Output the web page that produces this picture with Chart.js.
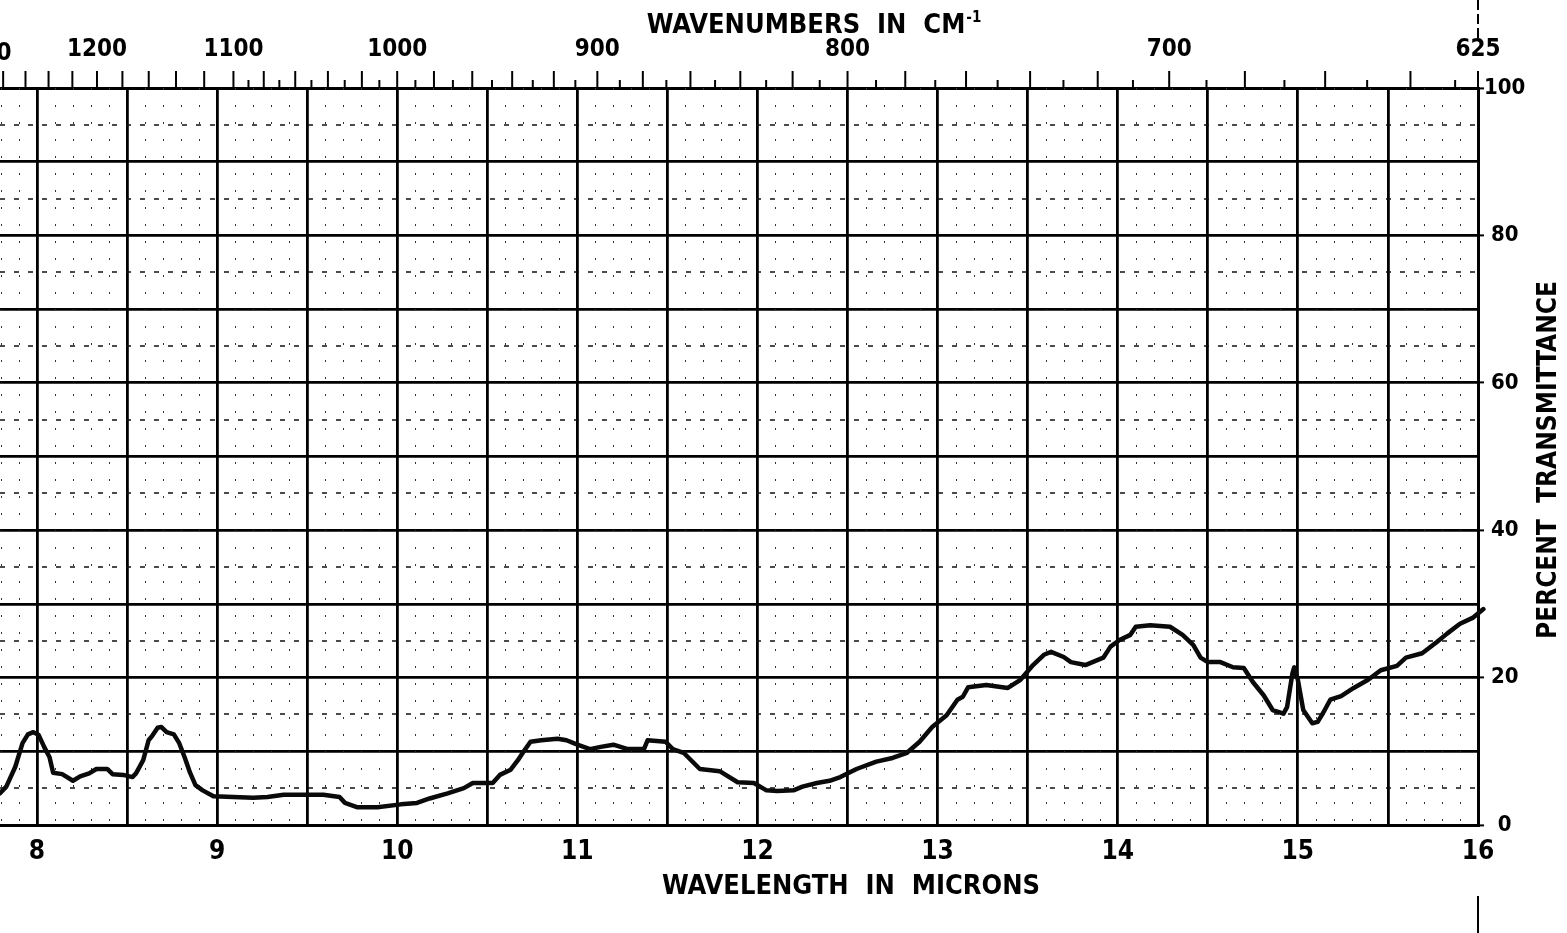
<!DOCTYPE html>
<html>
<head>
<meta charset="utf-8">
<script src="https://cdn.jsdelivr.net/npm/chart.js@4"></script>
<style>
  html, body { margin: 0; padding: 0; background: #fff; }
  #wrap { width: 1567px; height: 933px; position: relative; }
</style>
</head>
<body>
<div id="wrap"><canvas id="irChart"></canvas></div>
<script>
// spectrum: wavelength (microns) vs percent transmittance
const wavelength = [
  7.794, 7.83, 7.88, 7.92, 7.95, 7.98, 8.01, 8.04, 8.07, 8.09, 8.14, 8.20, 8.24, 8.29, 8.33, 8.39,
  8.42, 8.48, 8.53, 8.55, 8.59, 8.62, 8.64, 8.67, 8.69, 8.72, 8.76, 8.79, 8.82, 8.85, 8.88, 8.92,
  8.98, 9.09, 9.20, 9.28, 9.37, 9.48, 9.59, 9.68, 9.71, 9.78, 9.89, 10.02, 10.11, 10.18, 10.28, 10.37,
  10.42, 10.53, 10.57, 10.63, 10.67, 10.70, 10.74, 10.80, 10.89, 10.94, 11.00, 11.07, 11.13, 11.20,
  11.28, 11.37, 11.39, 11.49, 11.53, 11.59, 11.68, 11.79, 11.89, 11.98, 12.05, 12.11, 12.20, 12.25,
  12.33, 12.40, 12.46, 12.55, 12.66, 12.75, 12.83, 12.90, 12.97, 13.05, 13.11, 13.14, 13.17, 13.27,
  13.39, 13.46, 13.53, 13.59, 13.63, 13.70, 13.74, 13.82, 13.92, 13.96, 14.01, 14.07, 14.10, 14.18,
  14.29, 14.36, 14.42, 14.46, 14.50, 14.57, 14.64, 14.70, 14.75, 14.81, 14.86, 14.92, 14.94, 14.97,
  14.98, 15.00, 15.03, 15.08, 15.11, 15.14, 15.18, 15.24, 15.31, 15.39, 15.46, 15.55, 15.60, 15.69,
  15.77, 15.83, 15.90, 15.97, 16.03, 16.06
];
const transmittance = [
  4.3, 5.2, 7.9, 11.1, 12.3, 12.6, 12.2, 10.6, 9.2, 7.1, 6.9, 6.0, 6.6, 7.0, 7.6, 7.6,
  6.9, 6.8, 6.5, 7.0, 8.8, 11.5, 12.1, 13.2, 13.3, 12.6, 12.3, 11.1, 9.2, 7.1, 5.4, 4.7,
  3.9, 3.8, 3.7, 3.8, 4.1, 4.1, 4.1, 3.8, 3.0, 2.4, 2.4, 2.8, 3.0, 3.6, 4.3, 5.0,
  5.7, 5.7, 6.8, 7.5, 8.8, 9.9, 11.3, 11.5, 11.7, 11.5, 10.9, 10.3, 10.6, 10.9,
  10.3, 10.3, 11.5, 11.3, 10.3, 9.8, 7.6, 7.3, 5.8, 5.7, 4.7, 4.6, 4.7, 5.2,
  5.7, 6.0, 6.5, 7.6, 8.6, 9.1, 9.8, 11.3, 13.3, 14.9, 17.0, 17.4, 18.7, 19.0,
  18.6, 19.7, 21.7, 23.1, 23.5, 22.8, 22.1, 21.7, 22.7, 24.2, 25.1, 25.8, 26.9, 27.1,
  26.9, 25.8, 24.4, 22.7, 22.1, 22.1, 21.4, 21.3, 19.4, 17.6, 15.6, 15.1, 16.0, 20.6,
  21.4, 19.7, 15.6, 13.8, 14.0, 15.2, 17.0, 17.5, 18.6, 19.7, 21.0, 21.6, 22.7, 23.3,
  24.8, 26.0, 27.3, 28.1, 29.3, 30.0
];

// axes
const xMin = 7.795, xMax = 16;
const wavelengthLabels = [8, 9, 10, 11, 12, 13, 14, 15, 16];
const wavenumberLabels = [1300, 1200, 1100, 1000, 900, 800, 700, 625];
const transmittanceLabels = [0, 20, 40, 60, 80, 100];

const FONT = "'Liberation Sans Narrow', 'DejaVu Sans Condensed', 'Liberation Sans', sans-serif";

// wavenumber tick marks on the top edge: every 20 above 1100, every 10 below
const wavenumberTicks = [];
for (let w = 1280; w > 1100; w -= 20) wavenumberTicks.push(w);
for (let w = 1100; w >= 630; w -= 10) wavenumberTicks.push(w);
wavenumberTicks.push(625);

const chartPaper = {
  id: 'chartPaper',
  beforeDatasetsDraw(chart) {
    const { ctx, chartArea: a, scales } = chart;
    ctx.save();
    ctx.beginPath();
    ctx.rect(a.left, a.top, a.right - a.left, a.bottom - a.top);
    ctx.clip();
    ctx.strokeStyle = '#333';
    // dotted 0.1 micron lines
    ctx.lineWidth = 1;
    ctx.setLineDash([2, 15]);
    for (let i = 78; i <= 160; i++) {
      if (i % 5 === 0) continue;
      const x = Math.round(scales.x.getPixelForValue(i / 10)) + 0.5;
      ctx.beginPath(); ctx.moveTo(x, a.top); ctx.lineTo(x, a.bottom); ctx.stroke();
    }
    // dashed 5 % lines
    ctx.strokeStyle = '#111';
    ctx.lineWidth = 1.5;
    ctx.setLineDash([5, 9]);
    for (let t = 5; t < 100; t += 10) {
      const y = Math.round(scales.y.getPixelForValue(t));
      ctx.beginPath(); ctx.moveTo(a.left, y); ctx.lineTo(a.right, y); ctx.stroke();
    }
    ctx.restore();
  },
  afterDraw(chart) {
    const { ctx, chartArea: a, scales } = chart;
    ctx.save();
    ctx.strokeStyle = '#000';
    ctx.fillStyle = '#000';
    // top wavenumber ticks
    ctx.lineWidth = 2;
    wavenumberTicks.forEach(w => {
      const x = scales.x2.getPixelForValue(10000 / w);
      const len = (w % 20 === 0 || w === 625) ? 17 : 8;
      ctx.beginPath(); ctx.moveTo(x, a.top); ctx.lineTo(x, a.top - len); ctx.stroke();
    });
    // cut-off 1300 label at the left edge
    ctx.font = 'bold 24px ' + FONT;
    ctx.textAlign = 'center';
    ctx.textBaseline = 'alphabetic';
    ctx.fillText('1300', scales.x2.getPixelForValue(10000 / wavenumberLabels[0]), 60);

    // right edge marks beyond the frame
    const xr = scales.x.getPixelForValue(xMax);
    ctx.lineWidth = 2;
    ctx.setLineDash([10, 4]);
    ctx.beginPath(); ctx.moveTo(xr, 0); ctx.lineTo(xr, 42); ctx.stroke();
    ctx.setLineDash([]);
    ctx.beginPath(); ctx.moveTo(xr, 896); ctx.lineTo(xr, 933); ctx.stroke();

    // titles
    ctx.font = 'bold 27px ' + FONT;
    ctx.textAlign = 'center';
    ctx.fillText('WAVELENGTH  IN  MICRONS', 851, 894);
    ctx.textAlign = 'left';
    const top = 'WAVENUMBERS  IN  CM';
    const tw = ctx.measureText(top).width;
    const tx = 813 - (tw + 14) / 2;
    ctx.fillText(top, tx, 33);
    ctx.font = 'bold 15px ' + FONT;
    ctx.fillText('-1', tx + tw + 1, 22);
    ctx.font = 'bold 26px ' + FONT;
    ctx.translate(1556, 460);
    ctx.rotate(-Math.PI / 2);
    ctx.textAlign = 'center';
    ctx.fillText('PERCENT  TRANSMITTANCE', 0, 0);
    ctx.restore();
  }
};

new Chart(document.getElementById('irChart'), {
  type: 'line',
  data: {
    datasets: [{
      label: 'Spectrum',
      data: wavelength.map((w, i) => ({ x: w, y: transmittance[i] })),
      borderColor: '#0a0a0a',
      borderWidth: 4.5,
      pointRadius: 0,
      tension: 0,
      borderJoinStyle: 'round',
      borderCapStyle: 'round',
      clip: false
    }]
  },
  options: {
    responsive: true,
    maintainAspectRatio: false,
    animation: false,
    layout: { padding: 0 },
    plugins: { legend: { display: false }, tooltip: { enabled: false } },
    scales: {
      x: {
        type: 'linear',
        position: 'bottom',
        min: xMin,
        max: xMax,
        afterBuildTicks: (scale) => {
          const t = [];
          for (let v = 8; v <= 16; v += 0.5) t.push({ value: v });
          scale.ticks = t;
        },
        afterFit: (scale) => { scale.height = 108; },
        ticks: {
          autoSkip: false,
          maxRotation: 0,
          padding: 12,
          color: '#000',
          font: { family: FONT, weight: 'bold', size: 26 },
          callback: (v) => wavelengthLabels.includes(v) ? String(v) : ''
        },
        grid: { color: '#000', lineWidth: 2.8, drawTicks: false },
        border: { display: true, color: '#000', width: 3 }
      },
      x2: {
        type: 'linear',
        position: 'top',
        min: xMin,
        max: xMax,
        afterBuildTicks: (scale) => {
          scale.ticks = wavenumberLabels.slice(1).map(w => ({ value: 10000 / w }));
        },
        afterFit: (scale) => { scale.height = 88; },
        ticks: {
          autoSkip: false,
          maxRotation: 0,
          padding: 24,
          color: '#000',
          font: { family: FONT, weight: 'bold', size: 24 },
          callback: (v, i) => String(wavenumberLabels[i + 1])
        },
        grid: { drawOnChartArea: false, drawTicks: false },
        border: { display: true, color: '#000', width: 3 }
      },
      y: {
        type: 'linear',
        position: 'right',
        min: 0,
        max: 100,
        afterFit: (scale) => { scale.width = 89; },
        ticks: {
          stepSize: 10,
          padding: 0,
          crossAlign: 'center',
          color: '#000',
          font: { family: FONT, weight: 'bold', size: 22 },
          callback: (v) => transmittanceLabels.includes(v) ? String(v) : ''
        },
        grid: {
          color: '#000',
          lineWidth: 2.8,
          tickLength: 6,
          tickWidth: 2,
          tickColor: (c) => c.tick && c.tick.value % 20 === 0 ? '#000' : 'rgba(0,0,0,0)'
        },
        border: { display: true, color: '#000', width: 3 }
      }
    }
  },
  plugins: [chartPaper]
});
</script>
</body>
</html>
